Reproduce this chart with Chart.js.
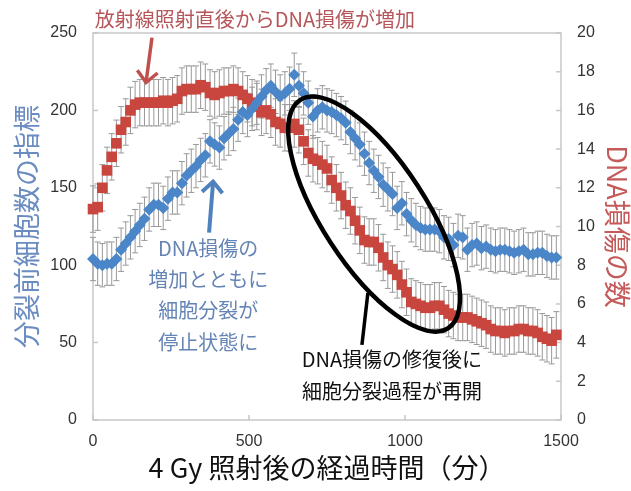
<!DOCTYPE html>
<html>
<head>
<meta charset="utf-8">
<script src="https://cdn.jsdelivr.net/npm/chart.js@4.4.1/dist/chart.umd.min.js"></script>
<style>
  body { margin: 0; background: #fff; overflow: hidden; }
  canvas { display: block; }
</style>
</head>
<body>
<canvas id="graphique" width="631" height="491"></canvas>
<script>
// temps apres irradiation (min)
const times = [
    0, 15, 30, 45, 60, 75, 90, 105, 120, 135,
    150, 165, 180, 195, 210, 225, 240, 255, 270, 285,
    300, 315, 330, 345, 360, 375, 390, 405, 420, 435,
    450, 465, 480, 495, 510, 525, 540, 555, 570, 585,
    600, 615, 630, 645, 660, 675, 690, 705, 720, 735,
    750, 765, 780, 795, 810, 825, 840, 855, 870, 885,
    900, 915, 930, 945, 960, 975, 990, 1005, 1020, 1035,
    1050, 1065, 1080, 1095, 1110, 1125, 1140, 1155, 1170, 1185,
    1200, 1215, 1230, 1245, 1260, 1275, 1290, 1305, 1320, 1335,
    1350, 1365, 1380, 1395, 1410, 1425, 1440, 1455, 1470, 1485
];

// 分裂前細胞数の指標 (axe gauche)
const cellIndex = [
    104, 101, 100, 101, 101, 104, 110, 114, 118, 122,
    126, 130, 136, 139, 139, 137, 143, 147, 147, 153,
    158, 161, 164, 168, 171, 180, 178, 176, 182, 185,
    188, 194, 199, 197, 201, 205, 209, 213, 216, 212,
    209, 211, 214, 223, 216, 211, 205, 196, 200, 202,
    200, 199, 197, 195, 192, 186, 182, 178, 172, 166,
    161, 157, 152, 149, 146, 137, 140, 133, 129, 126,
    124, 123, 123, 123, 122, 118, 117, 113, 119, 118,
    110, 113, 114, 111, 112, 110, 109, 110, 110, 109,
    108, 109, 110, 107, 107, 108, 108, 106, 105, 105
];

// DNA損傷の数 (axe droit)
const damageCount = [
    10.9, 11.0, 12.0, 12.9, 13.6, 14.3, 15.0, 15.4, 16.0, 16.3,
    16.4, 16.4, 16.4, 16.4, 16.4, 16.5, 16.4, 16.5, 16.6, 17.0,
    17.1, 17.1, 17.1, 17.3, 17.2, 16.9, 16.8, 16.9, 17.0, 17.0,
    17.1, 17.0, 16.8, 16.6, 16.4, 16.2, 15.9, 16.0, 15.8, 15.4,
    15.3, 15.1, 15.1, 15.3, 15.0, 14.4, 13.8, 13.5, 13.4, 13.2,
    13.0, 12.4, 12.0, 11.6, 11.1, 10.8, 10.3, 9.8, 9.3, 9.2,
    9.2, 8.9, 8.4, 8.0, 7.8, 7.5, 7.0, 6.6, 6.1, 6.0,
    5.9, 5.8, 5.8, 5.9, 5.9, 5.7, 5.5, 5.4, 5.3, 5.3,
    5.3, 5.2, 5.1, 5.0, 4.9, 4.7, 4.6, 4.6, 4.5, 4.6,
    4.6, 4.7, 4.7, 4.6, 4.6, 4.5, 4.3, 4.2, 4.1, 4.4
];

// barres d'erreur (+/-)
const cellErr = 14;
const damageErr = 1.2;

const xTicks = [0, 500, 1000, 1500];

const jp = '"Noto Sans CJK JP", "Noto Sans CJK SC", sans-serif';
const num = '"Liberation Sans", Arial, sans-serif';

// barres d'erreur sous les points
const errorBars = {
    id: 'errorBars',
    beforeDatasetsDraw(chart) {
        const ctx = chart.ctx;
        const errs = [cellErr, damageErr];
        ctx.save();
        ctx.strokeStyle = '#999999';
        ctx.lineWidth = 1;
        chart.data.datasets.forEach((ds, d) => {
            const meta = chart.getDatasetMeta(d);
            const sc = chart.scales[ds.yAxisID];
            meta.data.forEach((pt, i) => {
                const v = ds.data[i].y;
                const y1 = sc.getPixelForValue(v + errs[d]);
                const y2 = sc.getPixelForValue(v - errs[d]);
                ctx.beginPath();
                ctx.moveTo(pt.x, y1); ctx.lineTo(pt.x, y2);
                ctx.moveTo(pt.x - 3, y1); ctx.lineTo(pt.x + 3, y1);
                ctx.moveTo(pt.x - 3, y2); ctx.lineTo(pt.x + 3, y2);
                ctx.stroke();
            });
        });
        ctx.restore();
    }
};

// cadre + graduations interieures
const frame = {
    id: 'frame',
    beforeDatasetsDraw(chart) {
        const {ctx, chartArea: a, scales} = chart;
        ctx.save();
        ctx.strokeStyle = '#c8c8c8';
        ctx.lineWidth = 1.5;
        ctx.strokeRect(a.left, a.top, a.right - a.left, a.bottom - a.top);
        ctx.beginPath();
        scales.x.ticks.forEach(t => {
            const x = scales.x.getPixelForValue(t.value);
            ctx.moveTo(x, a.bottom); ctx.lineTo(x, a.bottom - 5);
        });
        scales.y.ticks.forEach(t => {
            const y = scales.y.getPixelForValue(t.value);
            ctx.moveTo(a.left, y); ctx.lineTo(a.left + 5, y);
        });
        scales.y1.ticks.forEach(t => {
            const y = scales.y1.getPixelForValue(t.value);
            ctx.moveTo(a.right, y); ctx.lineTo(a.right - 5, y);
        });
        ctx.stroke();
        ctx.restore();
    }
};

function fleche(ctx, x1, y1, x2, y2, color, w) {
    const ang = Math.atan2(y2 - y1, x2 - x1);
    const L = 15, spread = 0.75;
    ctx.save();
    ctx.strokeStyle = color;
    ctx.lineWidth = w;
    ctx.lineCap = 'butt';
    ctx.lineJoin = 'miter';
    ctx.beginPath();
    ctx.moveTo(x1, y1); ctx.lineTo(x2, y2);
    ctx.stroke();
    ctx.beginPath();
    ctx.moveTo(x2 - L * Math.cos(ang - spread), y2 - L * Math.sin(ang - spread));
    ctx.lineTo(x2, y2);
    ctx.lineTo(x2 - L * Math.cos(ang + spread), y2 - L * Math.sin(ang + spread));
    ctx.stroke();
    ctx.restore();
}

// annotations (positions en unites des axes)
const notes = {
    id: 'notes',
    afterDatasetsDraw(chart) {
        const ctx = chart.ctx;
        const X = v => chart.scales.x.getPixelForValue(v);
        const Y = v => chart.scales.y.getPixelForValue(v);
        ctx.save();
        ctx.textAlign = 'center';
        ctx.textBaseline = 'middle';
        ctx.font = '20px ' + jp;

        ctx.fillStyle = '#b5565a';
        ctx.fillText('放射線照射直後からDNA損傷が増加', X(519), Y(259));
        fleche(ctx, X(189), Y(247), X(170), Y(218), '#c0504d', 3.5);

        fleche(ctx, X(372), Y(121), X(385), Y(154), '#4f81bd', 4);
        ctx.fillStyle = '#6584b6';
        ['DNA損傷の', '増加とともに', '細胞分裂が', '停止状態に'].forEach((s, i) => {
            ctx.fillText(s, X(369), Y(111 - i * 20.2));
        });

        ctx.strokeStyle = '#000';
        ctx.lineWidth = 4.5;
        ctx.beginPath();
        ctx.ellipse(X(901), Y(133), 136, 52, 57 * Math.PI / 180, 0, Math.PI * 2);
        ctx.stroke();
        ctx.lineWidth = 3.5;
        ctx.beginPath();
        ctx.moveTo(X(881), Y(82)); ctx.lineTo(X(862), Y(48.5));
        ctx.stroke();

        ctx.fillStyle = '#111';
        ctx.fillText('DNA損傷の修復後に', X(958), Y(39));
        ctx.fillText('細胞分裂過程が再開', X(958), Y(18.5));
        ctx.restore();
    }
};

window.onload = function () {
    const ctx = document.getElementById('graphique').getContext('2d');
    const tickFont = { family: num, size: 16 };
    new Chart(ctx, {
        type: 'scatter',
        data: {
            datasets: [{
                label: '分裂前細胞数の指標',
                data: times.map((t, i) => ({ x: t, y: cellIndex[i] })),
                yAxisID: 'y',
                pointStyle: 'rectRot',
                pointRadius: 6,
                pointHoverRadius: 6,
                backgroundColor: '#4a86c8',
                borderColor: '#4a86c8',
                borderWidth: 0,
                clip: false
            }, {
                label: 'DNA損傷の数',
                data: times.map((t, i) => ({ x: t, y: damageCount[i] })),
                yAxisID: 'y1',
                pointStyle: 'rect',
                pointRadius: 7.5,
                pointHoverRadius: 7.5,
                backgroundColor: '#c9463f',
                borderColor: '#c9463f',
                borderWidth: 0,
                clip: false
            }]
        },
        options: {
            responsive: false,
            animation: false,
            layout: { padding: { top: 33, left: 0, right: 0, bottom: 0 } },
            plugins: {
                legend: { display: false },
                tooltip: { enabled: false }
            },
            scales: {
                x: {
                    type: 'linear',
                    min: 0, max: 1500,
                    afterBuildTicks: s => { s.ticks = xTicks.map(v => ({ value: v })); },
                    ticks: { font: tickFont, color: '#333', padding: 12, callback: v => String(v) },
                    grid: { display: false, drawTicks: false },
                    border: { display: false },
                    title: {
                        display: true,
                        text: '4 Gy 照射後の経過時間（分）',
                        font: { family: jp, size: 27 },
                        color: '#111',
                        padding: { top: 0, bottom: 7 }
                    },
                    afterFit: s => { s.height = 71; }
                },
                y: {
                    position: 'left',
                    min: 0, max: 250,
                    ticks: { stepSize: 50, font: tickFont, color: '#333', padding: 16 },
                    grid: { display: false, drawTicks: false },
                    border: { display: false },
                    title: {
                        display: true,
                        text: '分裂前細胞数の指標',
                        font: { family: jp, size: 27 },
                        color: '#6a8cc0',
                        padding: { top: 11, bottom: 0 }
                    },
                    afterFit: s => { s.width = 93; }
                },
                y1: {
                    position: 'right',
                    min: 0, max: 20,
                    ticks: { stepSize: 2, font: tickFont, color: '#333', padding: 16 },
                    grid: { display: false, drawTicks: false },
                    border: { display: false },
                    title: {
                        display: true,
                        text: 'DNA損傷の数',
                        font: { family: jp, size: 27, lineHeight: 1 },
                        color: '#c45a5a',
                        padding: { top: 0, bottom: 0 }
                    },
                    afterFit: s => { s.width = 70; }
                }
            }
        },
        plugins: [frame, errorBars, notes]
    });
};
</script>
</body>
</html>
